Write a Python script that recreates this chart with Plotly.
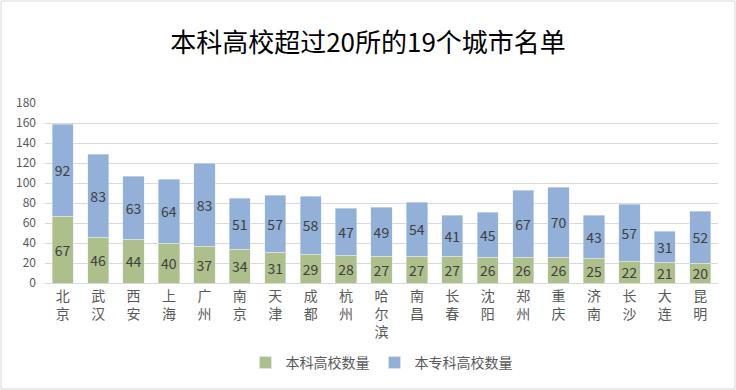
import plotly.graph_objects as go

cities = ["北京", "武汉", "西安", "上海", "广州", "南京", "天津", "成都", "杭州", "哈尔滨",
          "南昌", "长春", "沈阳", "郑州", "重庆", "济南", "长沙", "大连", "昆明"]
benke = [67, 46, 44, 40, 37, 34, 31, 29, 28, 27, 27, 27, 26, 26, 26, 25, 22, 21, 20]
zhuanke = [92, 83, 63, 64, 83, 51, 57, 58, 47, 49, 54, 41, 45, 67, 70, 43, 57, 31, 52]
y_ticks = [0, 20, 40, 60, 80, 100, 120, 140, 160, 180]

labels = ["<br>".join(list(c)) for c in cities]
FONT = "Noto Sans CJK SC"

fig = go.Figure()
fig.add_bar(x=labels, y=benke, name="本科高校数量", marker_color="#ADBF8A",
            text=benke, textposition="inside", insidetextanchor="middle",
            textfont=dict(size=14, color="#404040", family=FONT), textangle=0)
fig.add_bar(x=labels, y=zhuanke, name="本专科高校数量", marker_color="#93B0D8",
            text=zhuanke, textposition="inside", insidetextanchor="middle",
            textfont=dict(size=14, color="#404040", family=FONT), textangle=0)

W, H = 736, 390
ml, mr, mt, mb = 45, 18, 103, 107
pw = W - ml - mr
ph = H - mt - mb

fig.update_layout(
    barmode="stack", bargap=0.4,
    width=W, height=H,
    margin=dict(l=ml, r=mr, t=mt, b=mb, autoexpand=False),
    paper_bgcolor="white", plot_bgcolor="white",
    font=dict(family=FONT, color="#595959"),
    title=dict(text="本科高校超过20所的19个城市名单", x=0.5, xanchor="center",
               y=1 - 43 / H, yanchor="middle",
               font=dict(size=26, color="#000000", family=FONT)),
    legend=dict(orientation="h", x=0.5, xanchor="center", y=-(363 - 283) / ph, yanchor="middle",
                font=dict(size=14, color="#595959", family=FONT), traceorder="normal",
                itemwidth=30, tracegroupgap=0),
    uniformtext=dict(mode="show", minsize=14),
    shapes=[dict(type="rect", xref="paper", yref="paper",
                 x0=-(ml - 1) / pw, x1=1 + (mr - 1) / pw,
                 y0=-(mb - 1) / ph, y1=1 + (mt - 1) / ph,
                 line=dict(color="#D9D9D9", width=1), fillcolor="rgba(0,0,0,0)", layer="below")],
)
fig.update_yaxes(range=[0, 180], tickvals=y_ticks, showgrid=True, gridcolor="#D9D9D9",
                 zeroline=False, showline=False, tickfont=dict(size=12, color="#595959"),
                 ticks="", ticklabelstandoff=8, automargin=False)
fig.update_xaxes(showline=True, linecolor="#D9D9D9", ticks="", automargin=False,
                 tickfont=dict(size=14, color="#595959"), tickangle=0)

fig.write_html("out.html", config={"displayModeBar": False},
               post_script="document.body.style.margin='0';document.body.style.overflow='hidden';")
